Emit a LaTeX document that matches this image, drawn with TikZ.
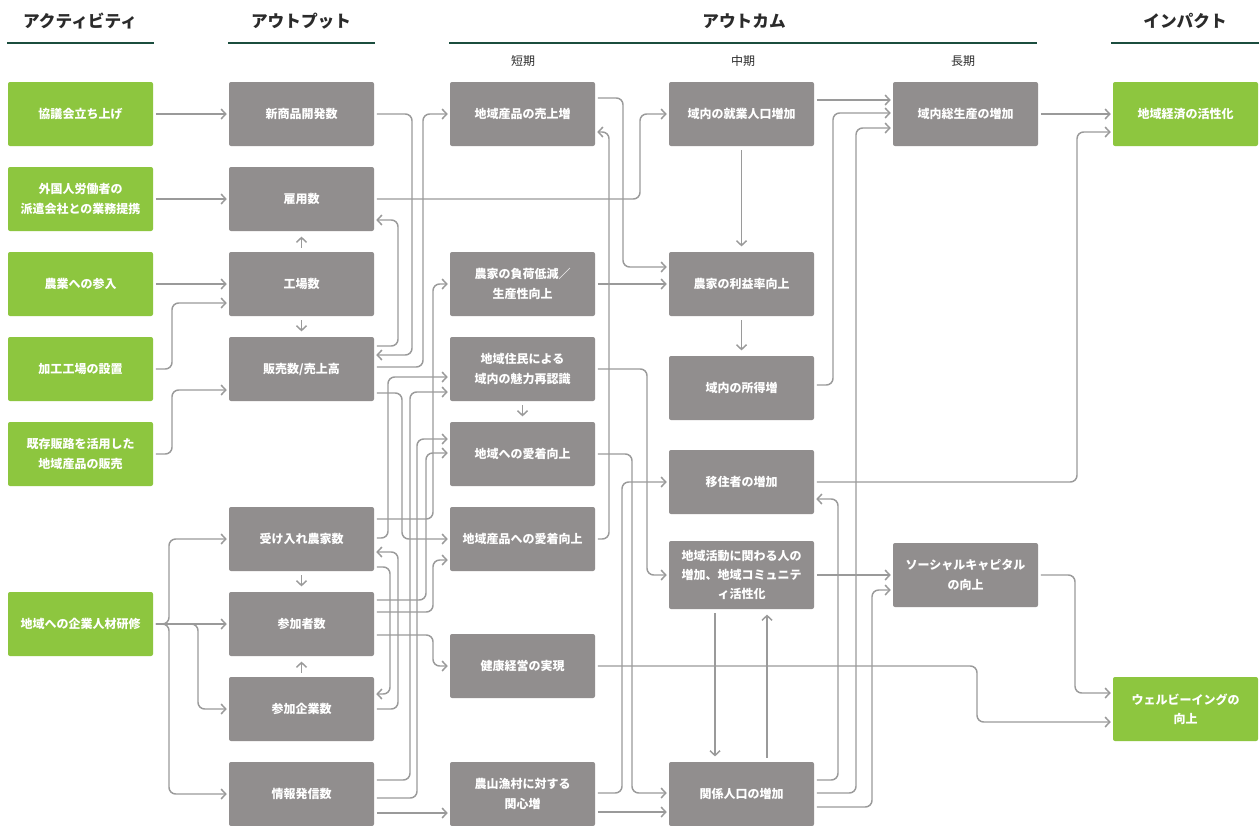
\documentclass[tikz,border=0pt]{standalone}
\usepackage{fontspec}
\setmainfont{Noto Sans CJK JP}
\usetikzlibrary{arrows.meta}
\definecolor{boxgreen}{HTML}{8DC63F}
\definecolor{boxgray}{HTML}{918E8E}
\definecolor{linegray}{HTML}{9A9A9A}
\definecolor{headgreen}{HTML}{1B4D3E}
\definecolor{headink}{HTML}{2B2B2B}
\begin{document}
\begin{tikzpicture}[x=0.75pt,y=-0.75pt,
 box/.style={rectangle, rounded corners=1.5pt, minimum width=108.75pt, minimum height=48pt, inner sep=0pt, align=center, text=white, font=\fontsize{9}{14.5}\selectfont\bfseries},
 gbox/.style={box, fill=boxgreen},
 obox/.style={box, fill=boxgray},
 conn/.style={draw=linegray, line width=1.1pt, rounded corners=5pt, -{Straight Barb[length=3.5pt,width=7.5pt]}, shorten >=1.5pt, shorten <=2pt},
 vconn/.style={conn, shorten <=3pt, shorten >=4pt},
 colhead/.style={font=\fontsize{12.5}{14}\selectfont\bfseries, text=headink},
 subhead/.style={font=\fontsize{9}{11}\selectfont, text=headink},
 headrule/.style={draw=headgreen, line width=2.2pt}
]
\useasboundingbox (0,0) rectangle (1259,825);
\fill[white] (0,0) rectangle (1259,825);

% headers
\node[colhead] (h1) at (80,21) {アクティビティ};
\node[colhead] (h2) at (301,21) {アウトプット};
\node[colhead] (h3) at (744,21) {アウトカム};
\node[colhead] (h4) at (1185,21) {インパクト};
\draw[headrule] (7,43) -- (154,43);
\draw[headrule] (228,43) -- (375,43);
\draw[headrule] (449,43) -- (1037,43);
\draw[headrule] (1111,43) -- (1259,43);
\node[subhead] (t1) at (523,61) {短期};
\node[subhead] (t2) at (743,61) {中期};
\node[subhead] (t3) at (963,61) {長期};

% activities
\node[gbox] (a1) at (80.5,114) {協議会立ち上げ};
\node[gbox] (a2) at (80.5,199) {外国人労働者の\\派遣会社との業務提携};
\node[gbox] (a3) at (80.5,284) {農業への参入};
\node[gbox] (a4) at (80.5,369) {加工工場の設置};
\node[gbox] (a5) at (80.5,454) {既存販路を活用した\\地域産品の販売};
\node[gbox] (a6) at (80.5,624) {地域への企業人材研修};

% outputs
\node[obox] (o1) at (301.5,114) {新商品開発数};
\node[obox] (o2) at (301.5,199) {雇用数};
\node[obox] (o3) at (301.5,284) {工場数};
\node[obox] (o4) at (301.5,369) {販売数/売上高};
\node[obox] (o5) at (301.5,539) {受け入れ農家数};
\node[obox] (o6) at (301.5,624) {参加者数};
\node[obox] (o7) at (301.5,709) {参加企業数};
\node[obox] (o8) at (301.5,794) {情報発信数};

% short-term
\node[obox] (s1) at (522.5,114) {地域産品の売上増};
\node[obox] (s2) at (522.5,284) {農家の負荷低減／\\生産性向上};
\node[obox] (s3) at (522.5,369) {地域住民による\\域内の魅力再認識};
\node[obox] (s4) at (522.5,454) {地域への愛着向上};
\node[obox] (s5) at (522.5,539) {地域産品への愛着向上};
\node[obox] (s6) at (522.5,666) {健康経営の実現};
\node[obox] (s7) at (522.5,794) {農山漁村に対する\\関心増};

% mid-term
\node[obox] (m1) at (741.5,114) {域内の就業人口増加};
\node[obox] (m2) at (741.5,284) {農家の利益率向上};
\node[obox] (m3) at (741.5,388) {域内の所得増};
\node[obox] (m4) at (741.5,482) {移住者の増加};
\node[obox, minimum height=51pt] (m5) at (741.5,575) {地域活動に関わる人の\\増加、地域コミュニテ\\ィ活性化};
\node[obox] (m6) at (741.5,794) {関係人口の増加};

% long-term
\node[obox] (l1) at (965.5,114) {域内総生産の増加};
\node[obox] (l2) at (965.5,575) {ソーシャルキャピタル\\の向上};

% impact
\node[gbox] (i1) at (1185.5,114) {地域経済の活性化};
\node[gbox] (i2) at (1185.5,709) {ウェルビーイングの\\向上};

% activity -> output
\draw[conn] (a1.east) -- (o1.west);
\draw[conn] (a2.east) -- (o2.west);
\draw[conn] (a3.east) -- (o3.west);
\draw[conn] (a4.east) -| (172,303) -- (o3.west |- 0,303);
\draw[conn] (a5.east) -| (172,390) -- (o4.west |- 0,390);
\draw[conn] (a6.east) -| (169,539) -- (o5.west);
\draw[conn] (a6.east) -- (o6.west);
\draw[conn] (a6.east) -| (198,709) -- (o7.west);
\draw[conn] (a6.east) -| (169,794) -- (o8.west);

% inside output column
\draw[vconn] (o3.north) -- (o2.south);
\draw[vconn] (o3.south) -- (o4.north);
\draw[vconn] (o5.south) -- (o6.north);
\draw[vconn] (o7.north) -- (o6.south);

% output -> short-term
\draw[conn] (o4.east |- 0,346) -| (398,220) -- (o2.east |- 0,220);
\draw[conn] (o1.east) -| (412,355) -- (o4.east |- 0,355);
\draw[conn] (o4.east |- 0,367) -| (423,114) -- (s1.west);
\draw[conn] (o2.east) -| (640,114) -- (m1.west);
\draw[conn] (o4.east |- 0,393) -| (402,539) -- (s5.west);
\draw[conn] (o5.east |- 0,519) -| (433,284) -- (s2.west);
\draw[conn] (o5.east |- 0,538) -| (388,377) -- (s3.west |- 0,377);
\draw[conn] (o5.east |- 0,567) -| (390,694) -- (o7.east |- 0,694);
\draw[conn] (o7.east) -| (398,552) -- (o5.east |- 0,552);
\draw[conn] (o8.east |- 0,780) -| (410,392) -- (s3.west |- 0,392);
\draw[conn] (o8.east |- 0,798) -| (417,439) -- (s4.west |- 0,439);
\draw[conn] (o8.east |- 0,813) -- (s7.west |- 0,813);
\draw[conn] (o6.east |- 0,600) -| (426,453) -- (s4.west |- 0,453);
\draw[conn] (o6.east |- 0,612) -| (433,560) -- (s5.west |- 0,560);
\draw[conn] (o6.east |- 0,635) -| (433,666) -- (s6.west);

% short -> mid
\draw[conn] (s1.east |- 0,98) -| (623,267) -- (m2.west |- 0,267);
\draw[conn] (s5.east) -| (609,132) -- (s1.east |- 0,132);
\draw[conn] (s2.east) -- (m2.west);
\draw[vconn] (m1.south) -- (m2.north);
\draw[vconn] (m2.south) -- (m3.north);
\draw[conn] (s3.east) -| (647,575) -- (m5.west);
\draw[vconn] (s3.south) -- (s4.north);
\draw[conn] (s4.east) -| (632,793) -- (m6.west |- 0,793);
\draw[conn] (s7.east |- 0,793) -| (622,482) -- (m4.west);
\draw[conn] (s7.east |- 0,812) -- (m6.west |- 0,812);
\draw[conn] (s6.east) -| (977,722) -- (i2.west |- 0,722);

% mid -> long / impact
\draw[conn] (m5.east) -- (l2.west);
\draw[conn] (m6.east |- 0,807) -| (872,590) -- (l2.west |- 0,590);
\draw[conn] (m6.east |- 0,780) -| (838,499) -- (m4.east |- 0,499);
\draw[conn] (m6.east |- 0,793) -| (856,128) -- (l1.west |- 0,128);
\draw[conn] (m3.east |- 0,385) -| (833,113) -- (l1.west |- 0,113);
\draw[conn] (m1.east |- 0,100) -- (l1.west |- 0,100);
\draw[conn] (l1.east) -- (i1.west);
\draw[conn] (m4.east) -| (1077,132) -- (i1.west |- 0,132);
\draw[conn] (l2.east) -| (1075,693) -- (i2.west |- 0,693);
\draw[vconn] (m5.south -| 715,0) -- (m6.north -| 715,0);
\draw[vconn] (m6.north -| 767,0) -- (m5.south -| 767,0);
\end{tikzpicture}
\end{document}
